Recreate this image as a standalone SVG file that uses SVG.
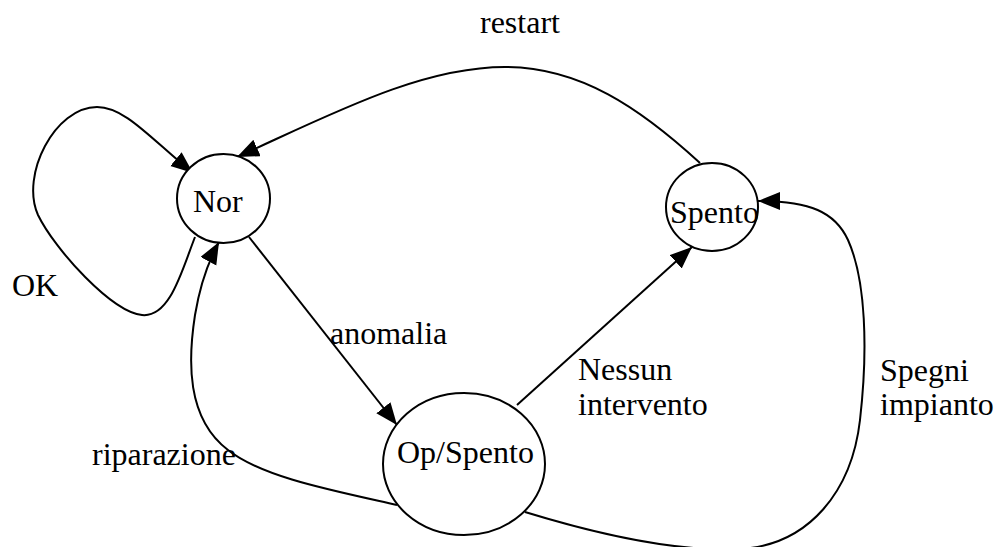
<svg xmlns="http://www.w3.org/2000/svg" width="996" height="547" viewBox="0 0 996 547">
  <style>
    .state { fill: #ffffff; stroke: #000000; stroke-width: 2; }
    .edge { fill: none; stroke: #000000; stroke-width: 2; marker-end: url(#arrow); }
    text { font-family: "Liberation Serif", "Times New Roman", serif; font-size: 32px; fill: #000000; }
  </style>
  <defs>
    <marker id="arrow" markerUnits="userSpaceOnUse" markerWidth="23" markerHeight="19" refX="22" refY="9" orient="auto">
      <path d="M0,0 L22,9 L0,18 z" fill="#000000"/>
    </marker>
  </defs>
  <rect width="996" height="547" fill="#ffffff"/>

  <!-- transitions -->
  <g id="connectors">
    <!-- OK: self-loop on Nor -->
    <path class="edge" d="M195,237 C182,270 170,318 142,315 C112,312 55,250 38,215 C20,175 55,107 97,107 C125,107 150,138 193,173"/>
    <!-- restart: Spento -> Nor -->
    <path class="edge" d="M700,163 C640,108 580,67 505,67 C420,67 330,115 237,157"/>
    <!-- anomalia: Nor -> Op/Spento -->
    <path class="edge" d="M249,237 L397,425"/>
    <!-- Nessun intervento: Op/Spento -> Spento -->
    <path class="edge" d="M517,405 L692,247"/>
    <!-- Spegni impianto: Op/Spento -> Spento -->
    <path class="edge" d="M525,512 C600,535 680,552 740,549 C810,545 852,490 860,420 C868,350 866,280 848,240 C835,212 810,201 758,201"/>
    <!-- riparazione: Op/Spento -> Nor -->
    <path class="edge" d="M397,505 C330,490 262,477 228,450 C186,418 188,360 195,315 C200,285 208,262 219,242"/>
  </g>

  <!-- transition labels -->
  <g id="labels">
    <text x="480" y="33">restart</text>
    <text x="12" y="296">OK</text>
    <text x="330" y="344">anomalia</text>
    <text x="578" y="380">Nessun</text>
    <text x="578" y="415">intervento</text>
    <text x="880" y="381">Spegni</text>
    <text x="880" y="415">impianto</text>
    <text x="92" y="465">riparazione</text>
  </g>

  <!-- states -->
  <g id="node-nor">
    <ellipse class="state" cx="223.5" cy="198.5" rx="46.5" ry="44.5"/>
    <text x="193" y="212">Nor</text>
  </g>
  <g id="node-spento">
    <ellipse class="state" cx="712" cy="207" rx="46" ry="44"/>
    <text x="670" y="223">Spento</text>
  </g>
  <g id="node-op-spento">
    <ellipse class="state" cx="464" cy="464" rx="81" ry="71"/>
    <text x="397" y="463">Op/Spento</text>
  </g>
</svg>
